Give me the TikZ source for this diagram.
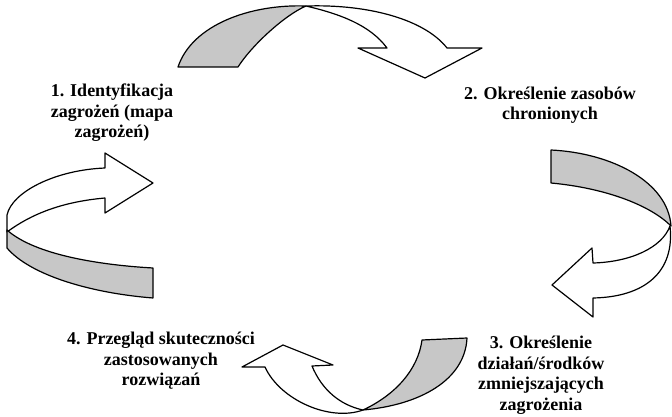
\documentclass[tikz,border=0pt]{standalone}
\usepackage{fontspec}
\setmainfont{Liberation Serif}
\begin{document}
\begin{tikzpicture}[x=1pt,y=-1pt,
		stage/.style={align=center,font=\bfseries\fontsize{18}{20.5}\selectfont},
		frontband/.style={draw,line width=1.2pt,line join=round,fill=white},
		backband/.style={draw,line width=1.2pt,line join=round,fill=black!22}]
	\useasboundingbox (0,0) rectangle (672,417);
	\draw[frontband] (306,6) .. controls (370,4) and (425,20) .. (447,48) -- (482,48) -- (425,78) -- (358,48) -- (387,48) .. controls (370,25) and (340,14) .. (306,6) -- cycle;
	\draw[backband] (178,67) .. controls (192,25) and (250,4) .. (306,6) .. controls (285,15) and (252,45) .. (238,67) -- cycle;
	\draw[frontband] (593,298) .. controls (645,297) and (675,272) .. (670,226) .. controls (662,248) and (630,262) .. (593,263) -- (592,248) -- (552,285) -- (593,317) -- cycle;
	\draw[backband] (551,150) .. controls (612,153) and (668,182) .. (671,226) .. controls (650,205) and (605,188) .. (551,183) -- cycle;
	\draw[frontband] (312,366) .. controls (322,390) and (340,405) .. (363,410) .. controls (330,422) and (280,400) .. (265,367) -- (242,367) -- (283,345) -- (333,365) -- cycle;
	\draw[backband] (422,340) -- (467,338) .. controls (465,380) and (420,405) .. (363,410) .. controls (395,395) and (418,370) .. (422,340) -- cycle;
	\draw[frontband] (105,198) -- (105,213) -- (153,183) -- (105,153) -- (105,168) .. controls (55,170) and (12,192) .. (7,215) -- (7,232) .. controls (30,215) and (60,202) .. (105,198) -- cycle;
	\draw[backband] (7,230) .. controls (35,255) and (100,265) .. (153,268) -- (153,298) .. controls (90,293) and (30,275) .. (7,248) -- cycle;
	\node[stage] (s1) at (112,113) {1. Identyfikacja\\zagrożeń (mapa\\zagrożeń)};
	\node[stage] (s2) at (550,105) {2. Określenie zasobów\\chronionych};
	\node[stage] (s3) at (541,375) {3. Określenie\\działań/środków\\zmniejszających\\zagrożenia};
	\node[stage] (s4) at (161,361) {4. Przegląd skuteczności\\zastosowanych\\rozwiązań};
\end{tikzpicture}
\end{document}
